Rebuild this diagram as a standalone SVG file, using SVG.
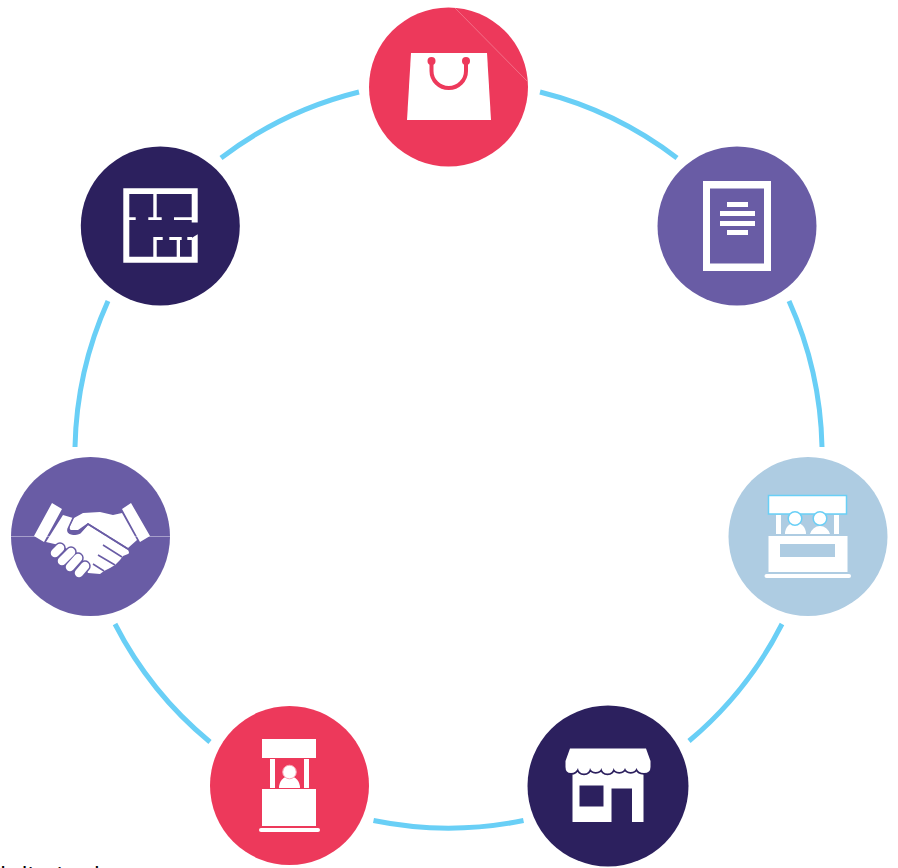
<svg xmlns="http://www.w3.org/2000/svg" width="898" height="868" viewBox="0 0 898 868">
<style>
.arc{fill:none;stroke:#69cff6;stroke-width:5}
.w{fill:#fff}
.red{fill:#ed395b}.navy{fill:#2c205e}.pur{fill:#695ca5}.sky{fill:#aecce2}
.seam{stroke:#f9a3b4;stroke-width:1;opacity:.5;fill:none}
.fold{fill:none;stroke:#695ca5;stroke-width:1.500}
.fo{stroke:#695ca5;stroke-width:11.500;stroke-linecap:round}
.fi{stroke:#fff;stroke-width:8.500;stroke-linecap:round}
</style>
<rect width="898" height="868" fill="#fff"/>
<g id="connectors">
<path class="arc" d="M540 92A374 374 0 0 1 677 158"/>
<path class="arc" d="M789 301A374 374 0 0 1 822 447"/>
<path class="arc" d="M782 624A374 374 0 0 1 689 741"/>
<path class="arc" d="M523.500 820.500A374 374 0 0 1 373.500 820.500"/>
<path class="arc" d="M210 742A374 374 0 0 1 115 624"/>
<path class="arc" d="M75 447A374 374 0 0 1 108 301"/>
<path class="arc" d="M221 158A374 374 0 0 1 359 92"/>
</g>
<g id="node-bag">
<circle class="red" cx="448.500" cy="87" r="79.500"/>
<path class="seam" d="M455 8L527 81"/>
<path class="w" d="M411 53H487L491 120H407Z"/>
<path d="M431.500 61V71A17.250 17 0 0 0 466 71V61" fill="none" stroke="#ed395b" stroke-width="4"/>
<circle class="red" cx="431.500" cy="61" r="4"/><circle class="red" cx="466" cy="61" r="4"/>
</g>
<g id="node-document">
<circle class="pur" cx="737" cy="226" r="79.500"/>
<path class="w" fill-rule="evenodd" d="M703 181H771V271H703ZM710 188.500V263.500H764V188.500Z"/>
<rect class="w" x="727" y="202" width="21" height="5"/>
<rect class="w" x="720" y="211" width="35" height="5"/>
<rect class="w" x="720" y="221" width="35" height="5"/>
<rect class="w" x="727" y="230" width="21" height="5"/>
</g>
<g id="node-stall-two">
<circle class="sky" cx="808" cy="536.500" r="79.500"/>
<rect x="768.500" y="495.500" width="78" height="18.500" fill="#fff" stroke="#69cff6" stroke-width="1.500"/>
<rect class="w" x="776" y="515" width="5" height="19"/><rect class="w" x="834" y="515" width="5" height="19"/>
<path class="w" d="M785 534A10.500 11.500 0 0 1 806 534ZM810 534A10.500 11.500 0 0 1 830 534Z"/>
<circle cx="795" cy="518.500" r="6.800" fill="#fff" stroke="#69cff6" stroke-width="1.500"/>
<circle cx="820" cy="518.500" r="6.800" fill="#fff" stroke="#69cff6" stroke-width="1.500"/>
<path class="w" fill-rule="evenodd" d="M768.500 536H847.500V572H768.500ZM780 544V557H835V544Z"/>
<rect class="w" x="764.500" y="574" width="86.500" height="4" rx="2"/>
</g>
<g id="node-shop">
<circle class="navy" cx="608" cy="786" r="80.500"/>
<path class="w" fill-rule="evenodd" d="M572.500 770H643.500V822H632V788.500H611.500V822H572.500ZM579.500 785.500V806.500H603.500V785.500Z"/>
<path class="w" stroke="#2c205e" stroke-width="3.500" paint-order="stroke" d="M570 748.500H646L650.500 761V767Q650.500 773 644 773Q638 773 636.500 768A6 5.500 0 0 1 625 768A6 5.500 0 0 1 613.500 768A6 5.500 0 0 1 601.500 768A6 5.500 0 0 1 590 768A6 5.500 0 0 1 578 768Q576 773 571 773Q565.500 773 565.500 767V761Z"/>
</g>
<g id="node-stall-one">
<circle class="red" cx="289.500" cy="785.500" r="79.500"/>
<rect class="w" x="262" y="739" width="54" height="19"/>
<rect class="w" x="270" y="759" width="5" height="29"/><rect class="w" x="304" y="759" width="5" height="29"/>
<path class="w" d="M279 788A10.500 12 0 0 1 300 788Z"/>
<circle cx="289.500" cy="772" r="6.800" fill="#fff" stroke="#f9a3b4" stroke-width="1"/>
<rect class="w" x="262" y="789" width="54" height="37"/>
<rect class="w" x="259" y="828" width="61" height="4" rx="2"/>
</g>
<g id="node-handshake">
<circle class="pur" cx="90.500" cy="536.500" r="79.500"/>
<path d="M11 536.500H170" stroke="#a79fcb" stroke-width="1"/>
<path class="w" d="M52 503L62 509L44 542L34 536ZM131 503L122 509L140 542L150 536Z"/>
<path class="w" d="M63 515L73 518L68 529Q67 533 72 534Q77 535 80 533L88 525L128 550Q130 553 128 554L123 556L120 560L115 565L110 568L104 571L100 574L88 573L83 563L72 553L63 546L46 542Z"/>
<path class="w" d="M74 518L83 513L100 512L113 515L122 513L137 540L128 548L88 523L78 530L71 530Q69 529 70 526Z"/>
<path class="fold" d="M73 518L68 529Q67 533 72 534Q77 535 80 533L88 524L128 549"/>
<path class="fold" d="M103 545L122 557M98 555L115 565M93 564L104 571"/>
<path class="fo" d="M55 553L60 548M62 561L71 552M70 567L78 558M79 573L85 566"/>
<path class="fi" d="M55 553L60 548M62 561L71 552M70 567L78 558M79 573L85 566"/>
</g>
<g id="node-plan">
<circle class="navy" cx="160.300" cy="226" r="79.500"/>
<path class="w" fill-rule="evenodd" d="M123.300 188.300H197.700V222.500H191.700V194H129.300V256.700H191.700V238L197.700 234.300V262.700H123.300Z"/>
<path class="w" d="M129 217.300H135.700V220H129ZM148.300 217.300H161.700V220H148.300ZM174 217.300H192V220H174ZM153.300 194H156.700V218H153.300ZM153.300 237H162.700V240H156.700V257H153.300ZM169.300 237H181.700V240H180V257H176.700V240H169.300ZM187.300 237H192V240H187.300Z"/>
</g>
<text x="0" y="883.500" font-family="Open Sans, sans-serif" font-size="24.500" fill="#000">h limited</text>
</svg>
